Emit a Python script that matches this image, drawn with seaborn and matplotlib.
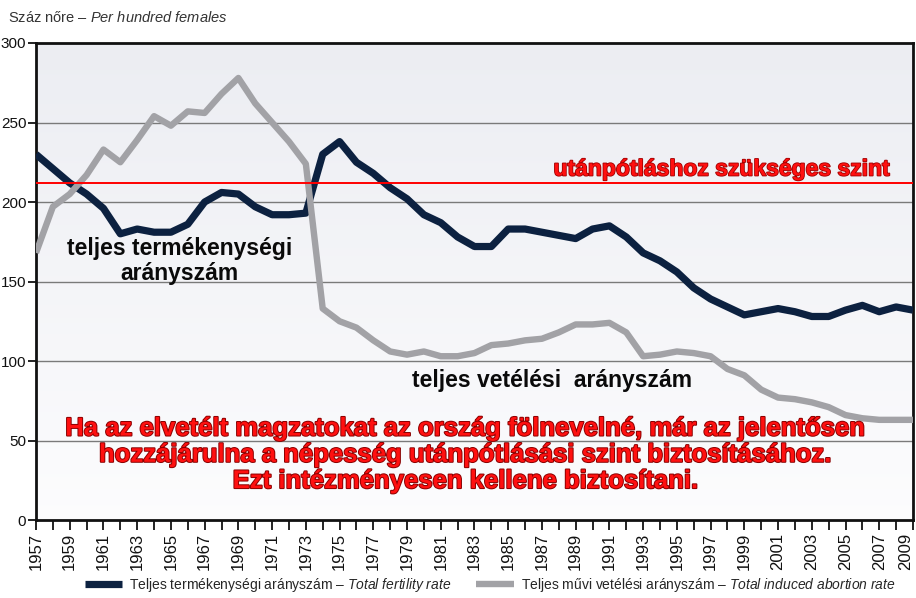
import numpy as np
import pandas as pd
import matplotlib
matplotlib.use("Agg")
import matplotlib.pyplot as plt
import matplotlib.patheffects as pe
import seaborn as sns

# Per hundred females, 1957-2009
years = list(range(1957, 2010))
fertility = [230, 221, 212, 205, 196, 180, 183, 181, 181, 186, 200, 206, 205,
             197, 192, 192, 193, 230, 238, 225, 218, 209, 202,
             192, 187, 178, 172, 172, 183, 183, 181, 179, 177,
             183, 185, 178, 168, 163, 156, 146, 139, 134, 129,
             131, 133, 131, 128, 128, 132, 135, 131, 134, 132]
abortion = [168, 197, 205, 217, 233, 225, 239, 254, 248, 257, 256, 268, 278,
            262, 250, 238, 224, 133, 125, 121, 113, 106, 104,
            106, 103, 103, 105, 110, 111, 113, 114, 118, 123,
            123, 124, 118, 103, 104, 106, 105, 103, 95, 91,
            82, 77, 76, 74, 71, 66, 64, 63, 63, 63]
replacement_level = 212

y_ticks = [0, 50, 100, 150, 200, 250, 300]
x_labels = list(range(1957, 2010, 2))

fertility_label = "Teljes termékenységi arányszám – $\\it{Total\\ fertility\\ rate}$"
abortion_label = "Teljes művi vetélési arányszám – $\\it{Total\\ induced\\ abortion\\ rate}$"

sns.set_theme(style="white")
base_font = "Liberation Sans"
plt.rcParams["font.family"] = [base_font, "DejaVu Sans"]
plt.rcParams["mathtext.fontset"] = "custom"
plt.rcParams["mathtext.it"] = f"{base_font}:italic"
plt.rcParams["mathtext.rm"] = base_font

df = pd.DataFrame({"year": years, "fertility": fertility, "abortion": abortion})

fig = plt.figure(figsize=(9.16, 5.98), dpi=100)
ax = fig.add_axes([0.0393, 0.1304, 0.9574, 0.7977])

# faint scanned-paper tint inside the plotting area
grad = np.linspace(0, 1, 256).reshape(-1, 1)
top = np.array([0.925, 0.93, 0.95])
bot = np.array([0.99, 0.99, 0.995])
img = top + (bot - top) * grad[..., None]
ax.imshow(img, extent=[0, 1, 0, 1], transform=ax.transAxes, aspect="auto",
          origin="upper", zorder=0)

for v in y_ticks[1:-1]:
    ax.axhline(v, color="#7a7a7a", lw=1.0, zorder=1)

sns.lineplot(data=df, x="year", y="fertility", ax=ax, color="#0c2140", lw=5.2,
             label=fertility_label, zorder=3, solid_joinstyle="round",
             solid_capstyle="butt")
sns.lineplot(data=df, x="year", y="abortion", ax=ax, color="#a2a2a6", lw=4.6,
             label=abortion_label, zorder=4, solid_joinstyle="round",
             solid_capstyle="butt")

ax.axhline(replacement_level, color="#ff0000", lw=1.4, zorder=5)

ax.set_xlim(1957, 2009)
ax.set_ylim(0, 300)
ax.set_xlabel("")
ax.set_ylabel("")
ax.set_yticks(y_ticks)
ax.set_xticks(x_labels)
ax.set_xticks(years, minor=True)
ax.set_xticklabels([str(y) for y in x_labels], rotation=90, fontsize=12)
# keep the last year label inside the figure edge
ax.get_xticklabels()[-1].set_horizontalalignment("right")
ax.tick_params(axis="y", labelsize=11, length=6, width=1.3, direction="out",
               left=True, pad=1, colors="#111111")
ax.tick_params(axis="x", which="both", length=7, width=1.3, direction="out",
               bottom=True, pad=2, colors="#111111")
for s in ax.spines.values():
    s.set_visible(True)
    s.set_color("#111111")
    s.set_linewidth(2.0)

# annotations
ax.text(2007.6, replacement_level + 1.5, "utánpótláshoz szükséges szint",
        color="#ff1010", fontsize=16.5, fontweight="bold", ha="right", va="bottom",
        path_effects=[pe.withStroke(linewidth=1.2, foreground="#a00000")], zorder=6)
ax.text(1965.5, 163, "teljes termékenységi\narányszám", color="#0a0a0a",
        fontsize=16.5, fontweight="bold", ha="center", va="center",
        linespacing=1.1, zorder=6)
ax.text(1979.3, 88, "teljes vetélési  arányszám", color="#0a0a0a",
        fontsize=16.5, fontweight="bold", ha="left", va="center", zorder=6)
ax.text(1982.5, 41,
        "Ha az elvetélt magzatokat az ország fölnevelné, már az jelentősen\n"
        "hozzájárulna a népesség utánpótlásási szint biztosításához.\n"
        "Ezt intézményesen kellene biztosítani.",
        color="#ff1010", fontsize=18.5, fontweight="bold", ha="center",
        va="center", linespacing=1.12,
        path_effects=[pe.withStroke(linewidth=1.4, foreground="#8a0000")], zorder=6)

fig.text(0.009, 0.97, "Száz nőre – $\\it{Per\\ hundred\\ females}$",
         fontsize=10.5, color="#333333", ha="left", va="center")

handles, labels = ax.get_legend_handles_labels()
ax.get_legend().remove()
fig.legend(handles, labels, loc="center", bbox_to_anchor=(0.535, 0.022),
           ncol=2, frameon=False, fontsize=10, handlelength=2.7,
           columnspacing=1.8, handletextpad=0.5, borderpad=0.1)

fig.savefig("out.png", dpi=100, facecolor="white")
